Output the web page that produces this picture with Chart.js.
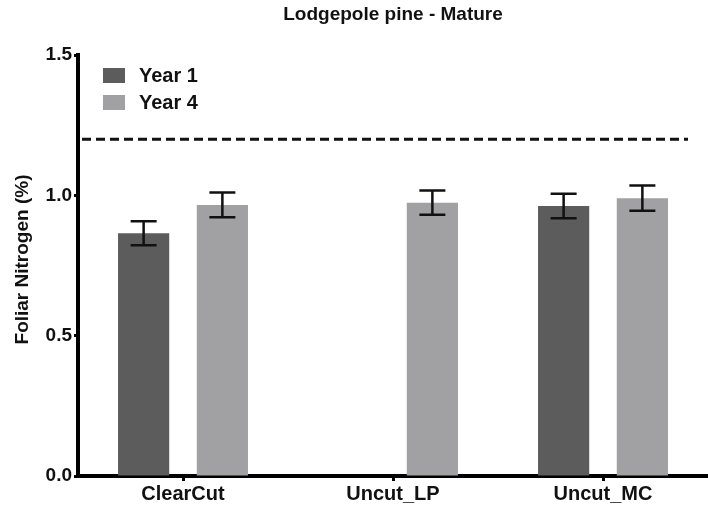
<!DOCTYPE html>
<html>
<head>
<meta charset="utf-8">
<script src="https://cdn.jsdelivr.net/npm/chart.js@4.4.0/dist/chart.umd.min.js"></script>
<style>
  html, body { margin: 0; padding: 0; background: #fff; }
  #wrap { width: 708px; height: 507px; }
</style>
</head>
<body>
<div id="wrap"><canvas id="chart" width="708" height="507"></canvas></div>
<script>
// data
const categories = ['ClearCut', 'Uncut_LP', 'Uncut_MC'];
const year1 = [0.865, null, 0.962];
const year1Err = [0.043, null, 0.044];
const year4 = [0.966, 0.974, 0.990];
const year4Err = [0.044, 0.043, 0.045];
const referenceLine = 1.2;
const yTicks = [0, 0.5, 1.0, 1.5];

const FONT = "'Liberation Sans', Arial, Helvetica, sans-serif";

// error bars
const errorBars = {
  id: 'errorBars',
  afterDatasetsDraw(chart) {
    const ctx = chart.ctx;
    const y = chart.scales.y;
    ctx.save();
    ctx.strokeStyle = '#111';
    ctx.lineWidth = 2.5;
    chart.data.datasets.forEach((ds, i) => {
      const meta = chart.getDatasetMeta(i);
      meta.data.forEach((bar, j) => {
        const v = ds.data[j], e = ds.errors[j];
        if (v == null || e == null) return;
        const x = bar.x;
        const top = y.getPixelForValue(v + e);
        const bot = y.getPixelForValue(v - e);
        ctx.beginPath();
        ctx.moveTo(x, top); ctx.lineTo(x, bot);
        ctx.moveTo(x - 13, top); ctx.lineTo(x + 13, top);
        ctx.moveTo(x - 13, bot); ctx.lineTo(x + 13, bot);
        ctx.stroke();
      });
    });
    ctx.restore();
  }
};

// dashed reference line, title, legend, axis title
const extras = {
  id: 'extras',
  afterDraw(chart) {
    const ctx = chart.ctx;
    const a = chart.chartArea;
    const yy = chart.scales.y.getPixelForValue(referenceLine);
    ctx.save();
    ctx.strokeStyle = '#111';
    ctx.lineWidth = 3;
    ctx.setLineDash([9, 5]);
    ctx.beginPath();
    ctx.moveTo(a.left + 4, yy);
    ctx.lineTo(a.right - 20, yy);
    ctx.stroke();
    ctx.setLineDash([]);

    ctx.fillStyle = '#111';
    ctx.font = 'bold 19px ' + FONT;
    ctx.textAlign = 'center';
    ctx.textBaseline = 'middle';
    ctx.fillText('Lodgepole pine - Mature', 393, 15);

    ctx.save();
    ctx.translate(23, (a.top + a.bottom) / 2 - 6);
    ctx.rotate(-Math.PI / 2);
    ctx.font = 'bold 19px ' + FONT;
    ctx.fillText('Foliar Nitrogen (%)', 0, 0);
    ctx.restore();

    ctx.textAlign = 'left';
    ctx.font = 'bold 20px ' + FONT;
    chart.data.datasets.forEach((ds, i) => {
      const cy = 75 + i * 27;
      ctx.fillStyle = ds.backgroundColor;
      ctx.fillRect(103, cy - 7, 22, 15);
      ctx.fillStyle = '#111';
      ctx.fillText(ds.label, 139, cy + 1);
    });
    ctx.restore();
  }
};

new Chart(document.getElementById('chart'), {
  type: 'bar',
  data: {
    labels: categories,
    datasets: [
      { label: 'Year 1', data: year1, errors: year1Err, backgroundColor: '#5c5c5c' },
      { label: 'Year 4', data: year4, errors: year4Err, backgroundColor: '#a1a1a4' }
    ]
  },
  options: {
    responsive: false,
    animation: false,
    categoryPercentage: 0.75,
    barPercentage: 0.65,
    layout: { padding: { top: 55, right: 0, left: 0, bottom: 0 } },
    plugins: {
      legend: { display: false },
      title: { display: false },
      tooltip: { enabled: false }
    },
    scales: {
      x: {
        grid: { display: true, drawOnChartArea: false, offset: false, drawTicks: true, tickLength: 5, tickWidth: 3, color: '#000' },
        border: { display: true, color: '#000', width: 4 },
        ticks: { color: '#111', font: { family: FONT, size: 20, weight: 'bold' }, padding: 1 },
        afterFit(s) { s.height = 31; }
      },
      y: {
        min: 0,
        max: 1.5,
        afterBuildTicks(s) { s.ticks = yTicks.map(v => ({ value: v })); },
        grid: { display: true, drawOnChartArea: false, drawTicks: true, tickLength: 4, tickWidth: 3, color: '#000' },
        border: { display: true, color: '#000', width: 4 },
        ticks: {
          color: '#111',
          font: { family: FONT, size: 19, weight: 'bold' },
          padding: 2,
          callback: v => Number(v).toFixed(1)
        },
        afterFit(s) { s.width = 78; }
      }
    }
  },
  plugins: [errorBars, extras]
});
</script>
</body>
</html>
